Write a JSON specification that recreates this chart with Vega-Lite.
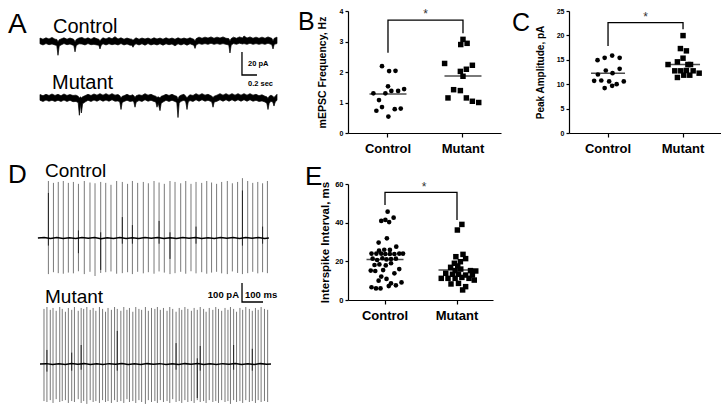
{
"$schema":"https://vega.github.io/schema/vega-lite/v6.json",
"background":"white",
"padding":{"top":7,"left":0,"right":0,"bottom":0},
"config":{"view":{"stroke":null},"font":"Liberation Sans","axis":{"grid":false,"domainColor":"black","tickColor":"black","labelColor":"black","titleColor":"black","labelFont":"Liberation Sans","titleFont":"Liberation Sans","domainWidth":1.2,"tickWidth":1.2},"text":{"font":"Liberation Sans","color":"black"}},
"columns":3,"bounds":"flush","align":"none","spacing":{"row":51,"column":68},
"datasets":{
"aCtl":[{"t":0,"hi":3,"lo":-2},{"t":0.04,"hi":2,"lo":-3},{"t":0.08,"hi":3.2,"lo":-1.8},{"t":0.12,"hi":2.2,"lo":-2.8},{"t":0.16,"hi":3.5,"lo":-2.2},{"t":0.2,"hi":2,"lo":-3},{"t":0.224,"hi":1.8,"lo":-3.5},{"t":0.24,"hi":-0.5,"lo":-12},{"t":0.256,"hi":1.5,"lo":-4},{"t":0.28,"hi":2.2,"lo":-3},{"t":0.32,"hi":3.2,"lo":-1.8},{"t":0.36,"hi":2,"lo":-2.8},{"t":0.4,"hi":3,"lo":-2.2},{"t":0.44,"hi":2.2,"lo":-3.2},{"t":0.451,"hi":1.8,"lo":-3.5},{"t":0.467,"hi":-0.5,"lo":-9},{"t":0.483,"hi":1.8,"lo":-3.5},{"t":0.52,"hi":3,"lo":-2},{"t":0.56,"hi":3.5,"lo":-2.2},{"t":0.6,"hi":2.2,"lo":-3},{"t":0.64,"hi":3.2,"lo":-1.8},{"t":0.68,"hi":2,"lo":-2.8},{"t":0.72,"hi":3.5,"lo":-2.5},{"t":0.76,"hi":2.4,"lo":-3},{"t":0.784,"hi":2,"lo":-3.2},{"t":0.8,"hi":0.5,"lo":-6.5},{"t":0.816,"hi":2,"lo":-3.2},{"t":0.84,"hi":3.2,"lo":-2},{"t":0.88,"hi":2.2,"lo":-3},{"t":0.92,"hi":3.5,"lo":-2},{"t":0.96,"hi":2.4,"lo":-2.8},{"t":1,"hi":4.2,"lo":-2.2},{"t":1.04,"hi":2.2,"lo":-3},{"t":1.08,"hi":3.2,"lo":-1.8},{"t":1.12,"hi":2,"lo":-3},{"t":1.16,"hi":3,"lo":-2.2},{"t":1.2,"hi":2.2,"lo":-3.2},{"t":1.224,"hi":2,"lo":-3.2},{"t":1.24,"hi":1,"lo":-5},{"t":1.256,"hi":2,"lo":-3},{"t":1.28,"hi":3.2,"lo":-2},{"t":1.32,"hi":2,"lo":-3},{"t":1.36,"hi":3,"lo":-2},{"t":1.4,"hi":2.2,"lo":-3.2},{"t":1.44,"hi":3,"lo":-1.8},{"t":1.48,"hi":2,"lo":-3},{"t":1.52,"hi":3.2,"lo":-2.2},{"t":1.56,"hi":2.2,"lo":-3},{"t":1.6,"hi":3,"lo":-2},{"t":1.64,"hi":2,"lo":-3.2},{"t":1.68,"hi":3.2,"lo":-2},{"t":1.72,"hi":2.2,"lo":-2.8},{"t":1.76,"hi":3,"lo":-2.2},{"t":1.8,"hi":2,"lo":-3.8},{"t":1.84,"hi":3.2,"lo":-2},{"t":1.88,"hi":2.2,"lo":-3},{"t":1.92,"hi":3,"lo":-2},{"t":1.96,"hi":2.2,"lo":-3.2},{"t":2,"hi":3.2,"lo":-2},{"t":2.04,"hi":2.2,"lo":-3},{"t":2.051,"hi":2,"lo":-3.2},{"t":2.067,"hi":0.5,"lo":-6},{"t":2.083,"hi":2.5,"lo":-2.8},{"t":2.12,"hi":3.8,"lo":-1.8},{"t":2.16,"hi":2.8,"lo":-2.5},{"t":2.2,"hi":3.8,"lo":-1.8},{"t":2.24,"hi":3,"lo":-2.5},{"t":2.28,"hi":4,"lo":-1.5},{"t":2.32,"hi":2.8,"lo":-2.5},{"t":2.36,"hi":3.8,"lo":-1.8},{"t":2.4,"hi":3,"lo":-2.5},{"t":2.44,"hi":4,"lo":-1.8},{"t":2.48,"hi":2.8,"lo":-2.5},{"t":2.517,"hi":2.5,"lo":-3},{"t":2.533,"hi":0.5,"lo":-10},{"t":2.549,"hi":2.5,"lo":-3},{"t":2.58,"hi":3.8,"lo":-1.8},{"t":2.62,"hi":2.8,"lo":-2.5},{"t":2.66,"hi":4,"lo":-1.5},{"t":2.7,"hi":3,"lo":-2.2},{"t":2.72,"hi":4.8,"lo":-1.8},{"t":2.76,"hi":3,"lo":-2.5},{"t":2.8,"hi":4,"lo":-1.5},{"t":2.84,"hi":2.8,"lo":-2.5},{"t":2.88,"hi":3.8,"lo":-1.8},{"t":2.92,"hi":2.8,"lo":-2.5},{"t":2.96,"hi":3.8,"lo":-1.8},{"t":3,"hi":2.8,"lo":-2.5},{"t":3.04,"hi":4,"lo":-1.5},{"t":3.08,"hi":3,"lo":-2.5},{"t":3.091,"hi":2.8,"lo":-2.8},{"t":3.107,"hi":0.5,"lo":-6.5},{"t":3.123,"hi":2.8,"lo":-2.5},{"t":3.16,"hi":3.8,"lo":-1.8}],
"aMut":[{"t":0,"hi":3,"lo":-2},{"t":0.04,"hi":2,"lo":-3},{"t":0.08,"hi":3.2,"lo":-1.8},{"t":0.12,"hi":2.2,"lo":-2.8},{"t":0.16,"hi":3.5,"lo":-2},{"t":0.2,"hi":2.2,"lo":-3},{"t":0.24,"hi":3.2,"lo":-2},{"t":0.28,"hi":2,"lo":-3},{"t":0.32,"hi":3.5,"lo":-1.8},{"t":0.36,"hi":2.2,"lo":-3},{"t":0.4,"hi":3,"lo":-2},{"t":0.44,"hi":2.2,"lo":-3.2},{"t":0.48,"hi":2.5,"lo":-3},{"t":0.509,"hi":1.5,"lo":-4},{"t":0.525,"hi":0,"lo":-15},{"t":0.541,"hi":1,"lo":-5},{"t":0.552,"hi":0,"lo":-13},{"t":0.568,"hi":1,"lo":-5},{"t":0.6,"hi":2,"lo":-3.5},{"t":0.64,"hi":3.2,"lo":-2},{"t":0.68,"hi":2.2,"lo":-3},{"t":0.72,"hi":3.5,"lo":-1.8},{"t":0.76,"hi":2.5,"lo":-2.8},{"t":0.8,"hi":3.8,"lo":-1.5},{"t":0.84,"hi":2.5,"lo":-2.8},{"t":0.88,"hi":3.8,"lo":-1.8},{"t":0.92,"hi":2.5,"lo":-2.8},{"t":0.96,"hi":3.8,"lo":-1.5},{"t":1,"hi":2.5,"lo":-2.8},{"t":1.04,"hi":3,"lo":-2.5},{"t":1.064,"hi":2,"lo":-3.5},{"t":1.08,"hi":0,"lo":-10},{"t":1.096,"hi":1.5,"lo":-4},{"t":1.12,"hi":2,"lo":-3},{"t":1.16,"hi":3.2,"lo":-2},{"t":1.2,"hi":2,"lo":-3},{"t":1.24,"hi":2.8,"lo":-2.5},{"t":1.251,"hi":2,"lo":-3.5},{"t":1.267,"hi":0.5,"lo":-8},{"t":1.283,"hi":2,"lo":-3.5},{"t":1.32,"hi":2.8,"lo":-2.2},{"t":1.36,"hi":2.2,"lo":-3},{"t":1.4,"hi":3.8,"lo":-1.5},{"t":1.44,"hi":2.5,"lo":-2.8},{"t":1.48,"hi":3.2,"lo":-2},{"t":1.52,"hi":2,"lo":-3},{"t":1.544,"hi":1.5,"lo":-3.5},{"t":1.56,"hi":0.5,"lo":-8},{"t":1.576,"hi":1,"lo":-4.5},{"t":1.6,"hi":0,"lo":-11},{"t":1.616,"hi":1.5,"lo":-4.5},{"t":1.64,"hi":2,"lo":-3.5},{"t":1.68,"hi":3.2,"lo":-2},{"t":1.72,"hi":2.2,"lo":-3},{"t":1.76,"hi":3.2,"lo":-2},{"t":1.8,"hi":2,"lo":-3},{"t":1.824,"hi":1.5,"lo":-4},{"t":1.84,"hi":-1,"lo":-17},{"t":1.856,"hi":1.5,"lo":-4.5},{"t":1.88,"hi":2.5,"lo":-2.8},{"t":1.92,"hi":3.2,"lo":-2},{"t":1.944,"hi":1.5,"lo":-3.5},{"t":1.96,"hi":0,"lo":-10},{"t":1.976,"hi":1.5,"lo":-3.5},{"t":2,"hi":2.8,"lo":-2.2},{"t":2.04,"hi":2.2,"lo":-3},{"t":2.08,"hi":3.8,"lo":-1.5},{"t":2.12,"hi":2.5,"lo":-2.8},{"t":2.16,"hi":3.8,"lo":-1.5},{"t":2.2,"hi":2.5,"lo":-2.8},{"t":2.24,"hi":3.2,"lo":-2},{"t":2.28,"hi":2,"lo":-3},{"t":2.291,"hi":1.5,"lo":-3.5},{"t":2.307,"hi":0.5,"lo":-8},{"t":2.323,"hi":1.5,"lo":-3.5},{"t":2.36,"hi":2.5,"lo":-2.8},{"t":2.4,"hi":3.8,"lo":-1.5},{"t":2.44,"hi":2.5,"lo":-2.8},{"t":2.48,"hi":3.8,"lo":-1.5},{"t":2.52,"hi":2.5,"lo":-2.8},{"t":2.56,"hi":3.8,"lo":-1.5},{"t":2.6,"hi":2.5,"lo":-2.8},{"t":2.64,"hi":3.8,"lo":-1.5},{"t":2.68,"hi":2.5,"lo":-2.8},{"t":2.72,"hi":3.8,"lo":-1.5},{"t":2.76,"hi":2.5,"lo":-2.8},{"t":2.8,"hi":3.8,"lo":-1.5},{"t":2.84,"hi":2.5,"lo":-2.8},{"t":2.88,"hi":3.2,"lo":-2},{"t":2.92,"hi":2,"lo":-3},{"t":2.96,"hi":2.8,"lo":-2.5},{"t":3,"hi":1.5,"lo":-3.5},{"t":3.024,"hi":1,"lo":-4.5},{"t":3.04,"hi":-0.5,"lo":-10},{"t":3.056,"hi":1.5,"lo":-4.5},{"t":3.08,"hi":2.5,"lo":-2.8},{"t":3.104,"hi":1.5,"lo":-3.5},{"t":3.12,"hi":0.5,"lo":-7},{"t":3.136,"hi":1.5,"lo":-3.5},{"t":3.16,"hi":3.2,"lo":-2}],
"dCtl":[{"t":40,"hi":300,"lo":-190},{"t":64,"hi":290,"lo":-180},{"t":87,"hi":295,"lo":-185},{"t":111,"hi":300,"lo":-188},{"t":135,"hi":290,"lo":-182},{"t":159,"hi":295,"lo":-186},{"t":183,"hi":285,"lo":-175},{"t":211,"hi":300,"lo":-190},{"t":238,"hi":292,"lo":-178},{"t":262,"hi":288,"lo":-200},{"t":289,"hi":295,"lo":-184},{"t":313,"hi":290,"lo":-180},{"t":338,"hi":280,"lo":-176},{"t":365,"hi":300,"lo":-188},{"t":392,"hi":295,"lo":-185},{"t":417,"hi":285,"lo":-180},{"t":440,"hi":300,"lo":-190},{"t":465,"hi":290,"lo":-178},{"t":492,"hi":295,"lo":-186},{"t":516,"hi":288,"lo":-180},{"t":543,"hi":300,"lo":-188},{"t":567,"hi":292,"lo":-176},{"t":592,"hi":285,"lo":-182},{"t":619,"hi":300,"lo":-190},{"t":643,"hi":295,"lo":-185},{"t":670,"hi":288,"lo":-178},{"t":694,"hi":300,"lo":-188},{"t":719,"hi":285,"lo":-175},{"t":743,"hi":295,"lo":-186},{"t":770,"hi":290,"lo":-180},{"t":794,"hi":300,"lo":-188},{"t":817,"hi":292,"lo":-182},{"t":841,"hi":285,"lo":-178},{"t":865,"hi":295,"lo":-186},{"t":892,"hi":300,"lo":-190},{"t":916,"hi":288,"lo":-176},{"t":941,"hi":295,"lo":-184},{"t":964,"hi":315,"lo":-190},{"t":989,"hi":300,"lo":-185},{"t":1013,"hi":290,"lo":-178},{"t":1037,"hi":295,"lo":-186},{"t":1060,"hi":288,"lo":-180},{"t":1083,"hi":300,"lo":-185}],
"dCtlDark":[{"t":40,"hi":237,"lo":-40},{"t":183,"hi":40,"lo":-80},{"t":289,"hi":30,"lo":-168},{"t":392,"hi":110,"lo":-30},{"t":440,"hi":68,"lo":-30},{"t":567,"hi":90,"lo":-30},{"t":619,"hi":30,"lo":-110},{"t":743,"hi":60,"lo":-30},{"t":964,"hi":250,"lo":-40},{"t":1060,"hi":60,"lo":-30}],
"dCtlBase":[{"t":-10,"v":0},{"t":20,"v":3},{"t":50,"v":-2},{"t":80,"v":2},{"t":110,"v":-3},{"t":140,"v":1},{"t":170,"v":-2},{"t":200,"v":2},{"t":230,"v":-1},{"t":260,"v":3},{"t":290,"v":-4},{"t":320,"v":1},{"t":350,"v":-2},{"t":380,"v":2},{"t":410,"v":-3},{"t":440,"v":1},{"t":470,"v":-2},{"t":500,"v":3},{"t":530,"v":-1},{"t":560,"v":2},{"t":590,"v":-3},{"t":620,"v":1},{"t":650,"v":-2},{"t":680,"v":2},{"t":710,"v":-1},{"t":740,"v":3},{"t":770,"v":-2},{"t":800,"v":1},{"t":830,"v":-3},{"t":860,"v":2},{"t":890,"v":-1},{"t":920,"v":2},{"t":950,"v":-2},{"t":980,"v":3},{"t":1010,"v":-1},{"t":1040,"v":2},{"t":1070,"v":-2},{"t":1090,"v":0}],
"dMut":[{"t":19,"hi":290,"lo":-195},{"t":33,"hi":300,"lo":-200},{"t":49,"hi":285,"lo":-190},{"t":62,"hi":295,"lo":-205},{"t":77,"hi":280,"lo":-185},{"t":94,"hi":300,"lo":-200},{"t":106,"hi":290,"lo":-195},{"t":121,"hi":275,"lo":-190},{"t":135,"hi":295,"lo":-205},{"t":151,"hi":285,"lo":-195},{"t":164,"hi":300,"lo":-200},{"t":182,"hi":280,"lo":-185},{"t":196,"hi":295,"lo":-205},{"t":208,"hi":290,"lo":-195},{"t":223,"hi":300,"lo":-210},{"t":239,"hi":285,"lo":-190},{"t":253,"hi":295,"lo":-200},{"t":266,"hi":280,"lo":-195},{"t":283,"hi":300,"lo":-205},{"t":298,"hi":290,"lo":-190},{"t":312,"hi":275,"lo":-200},{"t":324,"hi":295,"lo":-195},{"t":340,"hi":285,"lo":-205},{"t":355,"hi":300,"lo":-190},{"t":368,"hi":290,"lo":-200},{"t":385,"hi":280,"lo":-195},{"t":399,"hi":300,"lo":-205},{"t":414,"hi":285,"lo":-185},{"t":426,"hi":295,"lo":-200},{"t":442,"hi":275,"lo":-195},{"t":456,"hi":300,"lo":-205},{"t":471,"hi":290,"lo":-190},{"t":484,"hi":285,"lo":-200},{"t":502,"hi":300,"lo":-210},{"t":516,"hi":280,"lo":-190},{"t":531,"hi":295,"lo":-200},{"t":547,"hi":290,"lo":-195},{"t":559,"hi":300,"lo":-205},{"t":573,"hi":285,"lo":-190},{"t":588,"hi":295,"lo":-200},{"t":605,"hi":280,"lo":-195},{"t":618,"hi":300,"lo":-205},{"t":632,"hi":290,"lo":-185},{"t":648,"hi":275,"lo":-200},{"t":663,"hi":295,"lo":-195},{"t":675,"hi":285,"lo":-205},{"t":690,"hi":300,"lo":-190},{"t":704,"hi":290,"lo":-200},{"t":721,"hi":280,"lo":-195},{"t":734,"hi":295,"lo":-205},{"t":749,"hi":285,"lo":-190},{"t":763,"hi":300,"lo":-200},{"t":779,"hi":290,"lo":-195},{"t":791,"hi":275,"lo":-205},{"t":806,"hi":295,"lo":-190},{"t":823,"hi":285,"lo":-200},{"t":837,"hi":300,"lo":-195},{"t":850,"hi":290,"lo":-205},{"t":865,"hi":280,"lo":-190},{"t":881,"hi":295,"lo":-200},{"t":895,"hi":285,"lo":-195},{"t":907,"hi":300,"lo":-210},{"t":922,"hi":290,"lo":-190},{"t":936,"hi":275,"lo":-200},{"t":952,"hi":295,"lo":-195},{"t":965,"hi":285,"lo":-205},{"t":980,"hi":300,"lo":-190},{"t":997,"hi":290,"lo":-200},{"t":1011,"hi":280,"lo":-195},{"t":1026,"hi":295,"lo":-205},{"t":1039,"hi":285,"lo":-190},{"t":1053,"hi":300,"lo":-200},{"t":1069,"hi":290,"lo":-195},{"t":1084,"hi":285,"lo":-200}],
"dMutDark":[{"t":33,"hi":74,"lo":-40},{"t":151,"hi":60,"lo":-35},{"t":196,"hi":100,"lo":-30},{"t":368,"hi":174,"lo":-35},{"t":648,"hi":110,"lo":-30},{"t":749,"hi":30,"lo":-179},{"t":763,"hi":95,"lo":-35},{"t":922,"hi":100,"lo":-30},{"t":1011,"hi":80,"lo":-35}],
"dMutBase":[{"t":0,"v":0},{"t":30,"v":2},{"t":60,"v":-3},{"t":90,"v":1},{"t":120,"v":-2},{"t":150,"v":3},{"t":180,"v":-1},{"t":210,"v":2},{"t":240,"v":-3},{"t":270,"v":1},{"t":300,"v":-2},{"t":330,"v":2},{"t":360,"v":-1},{"t":390,"v":3},{"t":420,"v":-2},{"t":450,"v":1},{"t":480,"v":-3},{"t":510,"v":2},{"t":540,"v":-1},{"t":570,"v":2},{"t":600,"v":-2},{"t":630,"v":1},{"t":660,"v":-3},{"t":690,"v":2},{"t":720,"v":-1},{"t":750,"v":3},{"t":780,"v":-2},{"t":810,"v":1},{"t":840,"v":-2},{"t":870,"v":2},{"t":900,"v":-1},{"t":930,"v":3},{"t":960,"v":-2},{"t":990,"v":1},{"t":1020,"v":-3},{"t":1050,"v":2},{"t":1080,"v":-1},{"t":1100,"v":0}],
"bPts":[{"group":"Control","val":2.19,"jit":-0.16},{"group":"Control","val":2.03,"jit":0.03},{"group":"Control","val":2.04,"jit":0.2},{"group":"Control","val":1.53,"jit":0},{"group":"Control","val":1.3,"jit":-0.39},{"group":"Control","val":1.3,"jit":-0.07},{"group":"Control","val":1.38,"jit":0.09},{"group":"Control","val":1.38,"jit":0.27},{"group":"Control","val":1.44,"jit":0.43},{"group":"Control","val":1.08,"jit":-0.24},{"group":"Control","val":0.85,"jit":-0.16},{"group":"Control","val":0.73,"jit":-0.31},{"group":"Control","val":0.78,"jit":0.18},{"group":"Control","val":0.8,"jit":0.34},{"group":"Control","val":0.54,"jit":0.01},{"group":"Mutant","val":3.07,"jit":0},{"group":"Mutant","val":2.94,"jit":0.11},{"group":"Mutant","val":2.9,"jit":-0.06},{"group":"Mutant","val":2.28,"jit":-0.49},{"group":"Mutant","val":2.22,"jit":0.25},{"group":"Mutant","val":2.09,"jit":0.09},{"group":"Mutant","val":2.02,"jit":-0.07},{"group":"Mutant","val":1.86,"jit":0},{"group":"Mutant","val":1.42,"jit":-0.25},{"group":"Mutant","val":1.39,"jit":-0.07},{"group":"Mutant","val":1.15,"jit":-0.4},{"group":"Mutant","val":1.15,"jit":0.09},{"group":"Mutant","val":1.04,"jit":0.25},{"group":"Mutant","val":1.0,"jit":0.42}],
"cPts":[{"group":"Control","val":14.92,"jit":-0.28},{"group":"Control","val":15.4,"jit":-0.09},{"group":"Control","val":15.87,"jit":0.11},{"group":"Control","val":15.4,"jit":0.31},{"group":"Control","val":12.81,"jit":-0.06},{"group":"Control","val":12.26,"jit":0.12},{"group":"Control","val":13.15,"jit":0.31},{"group":"Control","val":11.99,"jit":-0.27},{"group":"Control","val":10.69,"jit":-0.37},{"group":"Control","val":10.76,"jit":-0.18},{"group":"Control","val":10.56,"jit":0.03},{"group":"Control","val":10.56,"jit":0.42},{"group":"Control","val":9.2,"jit":-0.09},{"group":"Control","val":9.67,"jit":0.11},{"group":"Control","val":10.01,"jit":0.23},{"group":"Mutant","val":19.96,"jit":0},{"group":"Mutant","val":17.3,"jit":-0.07},{"group":"Mutant","val":16.83,"jit":0.09},{"group":"Mutant","val":15.33,"jit":0},{"group":"Mutant","val":14.03,"jit":-0.4},{"group":"Mutant","val":14.58,"jit":-0.15},{"group":"Mutant","val":14.03,"jit":0.13},{"group":"Mutant","val":14.03,"jit":0.2},{"group":"Mutant","val":12.74,"jit":-0.22},{"group":"Mutant","val":12.74,"jit":-0.06},{"group":"Mutant","val":12.81,"jit":0.09},{"group":"Mutant","val":12.74,"jit":0.27},{"group":"Mutant","val":12.26,"jit":0.43},{"group":"Mutant","val":11.38,"jit":-0.15},{"group":"Mutant","val":11.85,"jit":0.02},{"group":"Mutant","val":11.85,"jit":0.18}],
"ePts":[{"group":"Control","val":45.7,"jit":0.03},{"group":"Control","val":40.9,"jit":-0.14},{"group":"Control","val":41.4,"jit":-0.03},{"group":"Control","val":40.3,"jit":0.07},{"group":"Control","val":42.6,"jit":0.19},{"group":"Control","val":31.9,"jit":0.01},{"group":"Control","val":29.7,"jit":-0.21},{"group":"Control","val":27.6,"jit":0.26},{"group":"Control","val":25.9,"jit":0.09},{"group":"Control","val":26.0,"jit":-0.06},{"group":"Control","val":25.5,"jit":-0.2},{"group":"Control","val":24.0,"jit":-0.4},{"group":"Control","val":24.0,"jit":-0.27},{"group":"Control","val":24.0,"jit":-0.14},{"group":"Control","val":23.8,"jit":-0.03},{"group":"Control","val":23.8,"jit":0.09},{"group":"Control","val":23.8,"jit":0.21},{"group":"Control","val":24.0,"jit":0.34},{"group":"Control","val":24.0,"jit":0.44},{"group":"Control","val":21.4,"jit":-0.37},{"group":"Control","val":20.7,"jit":-0.25},{"group":"Control","val":21.6,"jit":-0.11},{"group":"Control","val":21.0,"jit":0},{"group":"Control","val":21.2,"jit":0.12},{"group":"Control","val":21.4,"jit":0.25},{"group":"Control","val":18.1,"jit":-0.32},{"group":"Control","val":18.4,"jit":-0.19},{"group":"Control","val":17.9,"jit":-0.02},{"group":"Control","val":19.0,"jit":0.12},{"group":"Control","val":16.0,"jit":0.34},{"group":"Control","val":15.2,"jit":-0.42},{"group":"Control","val":15.0,"jit":-0.3},{"group":"Control","val":15.5,"jit":-0.09},{"group":"Control","val":13.8,"jit":0.21},{"group":"Control","val":12.1,"jit":-0.14},{"group":"Control","val":10.9,"jit":0},{"group":"Control","val":10.0,"jit":-0.21},{"group":"Control","val":8.6,"jit":0.12},{"group":"Control","val":7.6,"jit":0.25},{"group":"Control","val":9.1,"jit":0.4},{"group":"Control","val":7.2,"jit":0.06},{"group":"Control","val":6.6,"jit":-0.4},{"group":"Control","val":6.0,"jit":-0.28},{"group":"Control","val":6.0,"jit":-0.16},{"group":"Mutant","val":39.1,"jit":0.09},{"group":"Mutant","val":36.2,"jit":-0.03},{"group":"Mutant","val":23.6,"jit":0.12},{"group":"Mutant","val":22.4,"jit":-0.07},{"group":"Mutant","val":21.4,"jit":0.19},{"group":"Mutant","val":19.8,"jit":0.05},{"group":"Mutant","val":19.0,"jit":-0.11},{"group":"Mutant","val":17.6,"jit":-0.02},{"group":"Mutant","val":16.9,"jit":-0.21},{"group":"Mutant","val":16.0,"jit":0.06},{"group":"Mutant","val":15.2,"jit":-0.09},{"group":"Mutant","val":15.2,"jit":0.32},{"group":"Mutant","val":15.0,"jit":0.46},{"group":"Mutant","val":13.8,"jit":-0.34},{"group":"Mutant","val":13.3,"jit":-0.16},{"group":"Mutant","val":13.3,"jit":0},{"group":"Mutant","val":12.9,"jit":0.19},{"group":"Mutant","val":12.9,"jit":0.37},{"group":"Mutant","val":11.2,"jit":-0.46},{"group":"Mutant","val":11.2,"jit":-0.28},{"group":"Mutant","val":11.2,"jit":-0.09},{"group":"Mutant","val":11.7,"jit":0.09},{"group":"Mutant","val":11.2,"jit":0.28},{"group":"Mutant","val":10.3,"jit":0.42},{"group":"Mutant","val":8.3,"jit":-0.2},{"group":"Mutant","val":8.6,"jit":0},{"group":"Mutant","val":6.9,"jit":0.19},{"group":"Mutant","val":5.2,"jit":0.11}]
},
"concat":[
{"width":272,"height":122,"resolve":{"scale":{"y":"independent"}},
 "layer":[
  {"layer":[
    {"data":{"name":"aCtl"},"mark":{"type":"area","color":"black","stroke":"black","strokeWidth":0.7,"interpolate":"linear"},
     "encoding":{"x":{"field":"t","type":"quantitative","scale":{"domain":[-0.5333,3.0933]},"axis":null},"y":{"field":"hi","type":"quantitative","scale":{"domain":[-79.57,26.52]},"axis":null},"y2":{"field":"lo"}}},
    {"data":{"values":[{"t":2.693,"v":-9.13,"o":1},{"t":2.693,"v":-29.13,"o":2},{"t":2.893,"v":-29.13,"o":3}]},"mark":{"type":"line","color":"black","strokeWidth":1.3},
     "encoding":{"x":{"field":"t","type":"quantitative","scale":{"domain":[-0.5333,3.0933]},"axis":null},"y":{"field":"v","type":"quantitative","scale":{"domain":[-79.57,26.52]},"axis":null},"order":{"field":"o","type":"quantitative"}}},
    {"data":{"values":[{"t":-0.4267,"v":7.39,"label":"A"}]},"mark":{"type":"text","fontSize":28,"align":"left","baseline":"alphabetic"},
     "encoding":{"x":{"field":"t","type":"quantitative","scale":{"domain":[-0.5333,3.0933]},"axis":null},"y":{"field":"v","type":"quantitative","scale":{"domain":[-79.57,26.52]},"axis":null},"text":{"field":"label"}}},
    {"data":{"values":[{"t":3.44,"v":10.0,"label":"B"},{"t":6.293,"v":9.13,"label":"C"}]},"mark":{"type":"text","fontSize":25,"align":"left","baseline":"alphabetic"},
     "encoding":{"x":{"field":"t","type":"quantitative","scale":{"domain":[-0.5333,3.0933]},"axis":null},"y":{"field":"v","type":"quantitative","scale":{"domain":[-79.57,26.52]},"axis":null},"text":{"field":"label"}}},
    {"data":{"values":[{"t":0.173,"v":7.39,"label":"Control"},{"t":0.16,"v":-41.3,"label":"Mutant"}]},"mark":{"type":"text","fontSize":20,"align":"left","baseline":"alphabetic"},
     "encoding":{"x":{"field":"t","type":"quantitative","scale":{"domain":[-0.5333,3.0933]},"axis":null},"y":{"field":"v","type":"quantitative","scale":{"domain":[-79.57,26.52]},"axis":null},"text":{"field":"label"}}},
    {"data":{"values":[{"t":2.773,"v":-19.57,"label":"20 pA"},{"t":2.773,"v":-37.39,"label":"0.2 sec"}]},"mark":{"type":"text","fontSize":7.5,"fontWeight":"bold","align":"left","baseline":"middle"},
     "encoding":{"x":{"field":"t","type":"quantitative","scale":{"domain":[-0.5333,3.0933]},"axis":null},"y":{"field":"v","type":"quantitative","scale":{"domain":[-79.57,26.52]},"axis":null},"text":{"field":"label"}}}
  ]},
  {"data":{"name":"aMut"},"mark":{"type":"area","color":"black","stroke":"black","strokeWidth":0.7,"interpolate":"linear"},
   "encoding":{"x":{"field":"t","type":"quantitative","scale":{"domain":[-0.5333,3.0933]},"axis":null},"y":{"field":"hi","type":"quantitative","scale":{"domain":[-30.43,75.65]},"axis":null},"y2":{"field":"lo"}}}
 ]},
{"width":153,"height":122,
 "encoding":{"x":{"field":"group","type":"nominal","scale":{"domain":["Control","Mutant"],"paddingInner":0,"paddingOuter":0.02,"align":0.83},"axis":{"title":null,"labelAngle":0,"labelFontSize":13,"labelFontWeight":"bold","tickSize":4,"labelPadding":5}},
  "y":{"field":"val","type":"quantitative","scale":{"domain":[0,4]},"axis":{"values":[0,1,2,3,4],"title":"mEPSC Frequency, Hz","titleFontSize":10.5,"titleFontWeight":"bold","labelFontSize":7,"labelFontWeight":"bold","tickSize":3,"labelPadding":2,"titlePadding":12}}},
 "layer":[
  {"data":{"name":"bPts"},"mark":{"type":"point","filled":true,"opacity":1,"color":"black"},
   "encoding":{"xOffset":{"field":"jit","type":"quantitative","scale":{"domain":[-1,1]}},
    "shape":{"field":"group","type":"nominal","scale":{"domain":["Control","Mutant"],"range":["circle","square"]},"legend":null},
    "size":{"field":"group","type":"ordinal","scale":{"domain":["Control","Mutant"],"range":[22,30]},"legend":null}}},
  {"data":{"values":[{"group":"Control","val":1.28},{"group":"Mutant","val":1.87}]},"mark":{"type":"tick","color":"black","thickness":1.5,"size":37}},
  {"data":{"values":[{"group":"Control","val":2.63,"o":1},{"group":"Control","val":3.7,"o":2},{"group":"Mutant","val":3.7,"o":3},{"group":"Mutant","val":3.27,"o":4}]},"mark":{"type":"line","color":"black","strokeWidth":1.3},
   "encoding":{"order":{"field":"o","type":"quantitative"}}},
  {"data":{"values":[{"group":"Control","val":3.76,"jit":1,"label":"*"}]},"mark":{"type":"text","fontSize":12,"align":"center","baseline":"alphabetic","color":"#333"},
   "encoding":{"xOffset":{"field":"jit","type":"quantitative","scale":{"domain":[-1,1]}},"text":{"field":"label"}}}
 ]},
{"width":159,"height":122,
 "encoding":{"x":{"field":"group","type":"nominal","scale":{"domain":["Control","Mutant"],"paddingInner":0,"paddingOuter":0.06,"align":0.17},"axis":{"title":null,"labelAngle":0,"labelFontSize":13,"labelFontWeight":"bold","tickSize":4,"labelPadding":5}},
  "y":{"field":"val","type":"quantitative","scale":{"domain":[0,25]},"axis":{"values":[0,5,10,15,20,25],"title":"Peak Amplitude, pA","titleFontSize":10,"titleFontWeight":"bold","labelFontSize":7,"labelFontWeight":"bold","tickSize":3,"labelPadding":2,"titlePadding":11}}},
 "layer":[
  {"data":{"name":"cPts"},"mark":{"type":"point","filled":true,"opacity":1,"color":"black"},
   "encoding":{"xOffset":{"field":"jit","type":"quantitative","scale":{"domain":[-1,1]}},
    "shape":{"field":"group","type":"nominal","scale":{"domain":["Control","Mutant"],"range":["circle","square"]},"legend":null},
    "size":{"field":"group","type":"ordinal","scale":{"domain":["Control","Mutant"],"range":[22,30]},"legend":null}}},
  {"data":{"values":[{"group":"Control","val":12.26},{"group":"Mutant","val":14.03}]},"mark":{"type":"tick","color":"black","thickness":1.5,"size":34}},
  {"data":{"values":[{"group":"Control","val":17.85,"o":1},{"group":"Control","val":22.6,"o":2},{"group":"Mutant","val":22.6,"o":3},{"group":"Mutant","val":21.25,"o":4}]},"mark":{"type":"line","color":"black","strokeWidth":1.3},
   "encoding":{"order":{"field":"o","type":"quantitative"}}},
  {"data":{"values":[{"group":"Control","val":22.9,"jit":1,"label":"*"}]},"mark":{"type":"text","fontSize":12,"align":"center","baseline":"alphabetic","color":"#333"},
   "encoding":{"xOffset":{"field":"jit","type":"quantitative","scale":{"domain":[-1,1]}},"text":{"field":"label"}}}
 ]},
{"width":280,"height":230,"resolve":{"scale":{"y":"independent"}},
 "layer":[
  {"layer":[
    {"data":{"name":"dCtl"},"mark":{"type":"rule","color":"#6a6a6a","strokeWidth":0.9},
     "encoding":{"x":{"field":"t","type":"quantitative","scale":{"domain":[-190.5,1142.9]},"axis":null},"y":{"field":"hi","type":"quantitative","scale":{"domain":[-926.3,284.2]},"axis":null},"y2":{"field":"lo"}}},
    {"data":{"name":"dCtlDark"},"mark":{"type":"rule","color":"#222","strokeWidth":1},
     "encoding":{"x":{"field":"t","type":"quantitative","scale":{"domain":[-190.5,1142.9]},"axis":null},"y":{"field":"hi","type":"quantitative","scale":{"domain":[-926.3,284.2]},"axis":null},"y2":{"field":"lo"}}},
    {"data":{"name":"dCtlBase"},"mark":{"type":"line","color":"black","strokeWidth":1.5},
     "encoding":{"x":{"field":"t","type":"quantitative","scale":{"domain":[-190.5,1142.9]},"axis":null},"y":{"field":"v","type":"quantitative","scale":{"domain":[-926.3,284.2]},"axis":null}}},
    {"data":{"values":[{"t":962,"v":-236.8,"o":1},{"t":962,"v":-336.9,"o":2},{"t":1062,"v":-336.9,"o":3}]},"mark":{"type":"line","color":"black","strokeWidth":1.3},
     "encoding":{"x":{"field":"t","type":"quantitative","scale":{"domain":[-190.5,1142.9]},"axis":null},"y":{"field":"v","type":"quantitative","scale":{"domain":[-926.3,284.2]},"axis":null},"order":{"field":"o","type":"quantitative"}}},
    {"data":{"values":[{"t":-152,"v":289.5,"label":"D"},{"t":1262,"v":278.9,"label":"E"}]},"mark":{"type":"text","fontSize":26,"align":"left","baseline":"alphabetic"},
     "encoding":{"x":{"field":"t","type":"quantitative","scale":{"domain":[-190.5,1142.9]},"axis":null},"y":{"field":"v","type":"quantitative","scale":{"domain":[-926.3,284.2]},"axis":null},"text":{"field":"label"}}},
    {"data":{"values":[{"t":23.8,"v":321,"label":"Control"},{"t":23.8,"v":-342,"label":"Mutant"}]},"mark":{"type":"text","fontSize":19,"align":"left","baseline":"alphabetic"},
     "encoding":{"x":{"field":"t","type":"quantitative","scale":{"domain":[-190.5,1142.9]},"axis":null},"y":{"field":"v","type":"quantitative","scale":{"domain":[-926.3,284.2]},"axis":null},"text":{"field":"label"}}},
    {"data":{"values":[{"t":947.6,"v":-300,"label":"100 pA"}]},"mark":{"type":"text","fontSize":9.5,"fontWeight":"bold","align":"right","baseline":"middle"},
     "encoding":{"x":{"field":"t","type":"quantitative","scale":{"domain":[-190.5,1142.9]},"axis":null},"y":{"field":"v","type":"quantitative","scale":{"domain":[-926.3,284.2]},"axis":null},"text":{"field":"label"}}},
    {"data":{"values":[{"t":976,"v":-300,"label":"100 ms"}]},"mark":{"type":"text","fontSize":9.5,"fontWeight":"bold","align":"left","baseline":"middle"},
     "encoding":{"x":{"field":"t","type":"quantitative","scale":{"domain":[-190.5,1142.9]},"axis":null},"y":{"field":"v","type":"quantitative","scale":{"domain":[-926.3,284.2]},"axis":null},"text":{"field":"label"}}}
  ]},
  {"layer":[
    {"data":{"name":"dMut"},"mark":{"type":"rule","color":"#6a6a6a","strokeWidth":0.9},
     "encoding":{"x":{"field":"t","type":"quantitative","scale":{"domain":[-190.5,1142.9]},"axis":null},"y":{"field":"hi","type":"quantitative","scale":{"domain":[-263.1,947.4]},"axis":null},"y2":{"field":"lo"}}},
    {"data":{"name":"dMutDark"},"mark":{"type":"rule","color":"#222","strokeWidth":1},
     "encoding":{"x":{"field":"t","type":"quantitative","scale":{"domain":[-190.5,1142.9]},"axis":null},"y":{"field":"hi","type":"quantitative","scale":{"domain":[-263.1,947.4]},"axis":null},"y2":{"field":"lo"}}},
    {"data":{"name":"dMutBase"},"mark":{"type":"line","color":"black","strokeWidth":1.5},
     "encoding":{"x":{"field":"t","type":"quantitative","scale":{"domain":[-190.5,1142.9]},"axis":null},"y":{"field":"v","type":"quantitative","scale":{"domain":[-263.1,947.4]},"axis":null}}}
  ]}
 ]},
{"width":145,"height":116,
 "encoding":{"x":{"field":"group","type":"nominal","scale":{"domain":["Control","Mutant"],"paddingInner":0,"paddingOuter":0.007,"align":1},"axis":{"title":null,"labelAngle":0,"labelFontSize":13,"labelFontWeight":"bold","tickSize":4,"labelPadding":5}},
  "y":{"field":"val","type":"quantitative","scale":{"domain":[0,60]},"axis":{"values":[0,20,40,60],"title":"Interspike Interval, ms","titleFontSize":11.5,"titleFontWeight":"bold","labelFontSize":7.5,"labelFontWeight":"bold","tickSize":3,"labelPadding":2,"titlePadding":4}}},
 "layer":[
  {"data":{"name":"ePts"},"mark":{"type":"point","filled":true,"opacity":1,"color":"black"},
   "encoding":{"xOffset":{"field":"jit","type":"quantitative","scale":{"domain":[-1,1]}},
    "shape":{"field":"group","type":"nominal","scale":{"domain":["Control","Mutant"],"range":["circle","square"]},"legend":null},
    "size":{"field":"group","type":"ordinal","scale":{"domain":["Control","Mutant"],"range":[18,24]},"legend":null}}},
  {"data":{"values":[{"group":"Control","val":21.0},{"group":"Mutant","val":15.5}]},"mark":{"type":"tick","color":"black","thickness":1.5,"size":37}},
  {"data":{"values":[{"group":"Control","val":49.1,"o":1},{"group":"Control","val":55.7,"o":2},{"group":"Mutant","val":55.7,"o":3},{"group":"Mutant","val":41.4,"o":4}]},"mark":{"type":"line","color":"black","strokeWidth":1.3},
   "encoding":{"order":{"field":"o","type":"quantitative"}}},
  {"data":{"values":[{"group":"Control","val":56.4,"jit":1,"label":"*"}]},"mark":{"type":"text","fontSize":12,"align":"center","baseline":"alphabetic","color":"#333"},
   "encoding":{"xOffset":{"field":"jit","type":"quantitative","scale":{"domain":[-1,1]}},"text":{"field":"label"}}}
 ]}
]
}
